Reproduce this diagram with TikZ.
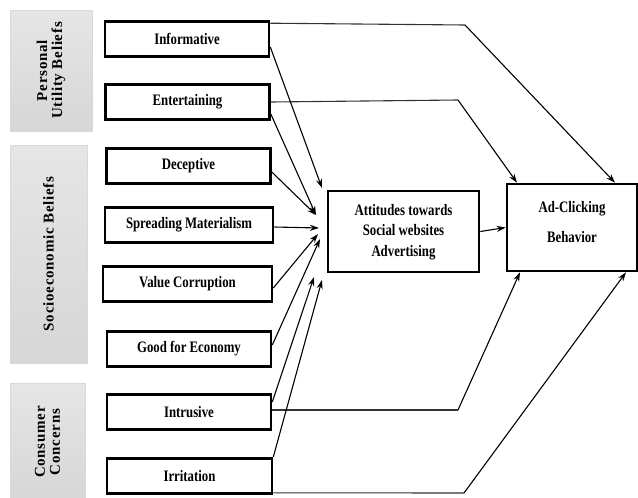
\documentclass[tikz,border=0pt]{standalone}
\usepackage{fontspec}
\setmainfont{Liberation Serif}
\newfontfamily\boxfont[FakeStretch=0.8]{Liberation Serif}
\newfontfamily\groupfont[LetterSpace=5]{Liberation Serif}
\usepackage{tikz}
\usetikzlibrary{arrows.meta, positioning, calc}
\tikzset{
  % Box styles
  groupbox/.style={rectangle, draw=gray!30, top color=gray!20, bottom color=gray!32, font=\groupfont\fontsize{15}{15}\selectfont\bfseries, align=center, rotate=90, inner sep=0pt},
  factorbox/.style={rectangle, draw=black, line width=2.6pt, fill=white, minimum width=164pt, minimum height=35pt, font=\boxfont\fontsize{16}{17}\selectfont\bfseries, align=center, inner sep=0pt},
  mainbox/.style={rectangle, draw=black, line width=2.6pt, fill=white, font=\boxfont\fontsize{16}{20.5}\selectfont\bfseries, align=center, inner sep=0pt},
  % Arrow styles
  arrow/.style={-{Stealth[length=9pt,width=6pt]}, line width=1.1pt, black},
  link/.style={line width=1.1pt, black!80}
}
\begin{document}
\begin{tikzpicture}[x=1pt, y=-1pt]
  \useasboundingbox (0,0) rectangle (638,498);

  % Groups
  \node[groupbox, minimum width=121pt, minimum height=82pt] (pub) at (51,70.5) {Personal\\Utility Beliefs};
  \node[groupbox, minimum width=218pt, minimum height=77pt] (seb) at (48.5,254) {Socioeconomic Beliefs};
  \node[groupbox, minimum width=118pt, minimum height=75pt] (cc) at (47.5,442) {Consumer\\Concerns};

  % Factors
  \node[factorbox] (inf) at (187,39) {Informative};
  \node[factorbox] (ent) at (187.5,102) {Entertaining};
  \node[factorbox] (dec) at (188.5,166) {Deceptive};
  \node[factorbox, minimum width=168pt] (spr) at (189,225) {Spreading Materialism};
  \node[factorbox, minimum width=169pt] (val) at (187.5,284) {Value Corruption};
  \node[factorbox] (goo) at (189,349) {Good for Economy};
  \node[factorbox] (int) at (189,412) {Intrusive};
  \node[factorbox, minimum width=165pt] (irr) at (189.5,476) {Irritation};

  % Outcomes
  \node[mainbox, minimum width=151pt, minimum height=81pt, text depth=3pt] (att) at (403.5,231.5) {Attitudes towards\\Social websites\\Advertising};
  \node[mainbox, minimum width=130pt, minimum height=87pt, text depth=12pt, font=\boxfont\fontsize{16}{30}\selectfont\bfseries] (adc) at (572,227.5) {Ad-Clicking\\Behavior};

  % Bend points and arrow ends
  \coordinate (b1) at (465,25);
  \coordinate (b2) at (458,100);
  \coordinate (b3) at (458,410);
  \coordinate (b4) at (464,493);
  \coordinate (t1) at (322,188);
  \coordinate (t2) at (316,215);
  \coordinate (t3) at (319,228);
  \coordinate (t4) at (318,234);
  \coordinate (t5) at (320,239);
  \coordinate (t6) at (314,277);
  \coordinate (t7) at (322,280);

  % Direct paths
  \draw[link] (inf.north east) ++(0,3) -- (b1);
  \draw[arrow] (b1) -- (adc.north east -| 615,0);
  \draw[link] (ent.east) -- (b2);
  \draw[arrow] (b2) -- (adc.north west -| 517,0);
  \draw[link] (int.east) ++(0,-2) -- (b3);
  \draw[arrow] (b3) -- (adc.south west -| 520,0);
  \draw[link] (irr.south east) ++(0,-2) -- (b4);
  \draw[arrow] (b4) -- (adc.south east -| 626,0);

  % Paths to attitudes
  \draw[arrow] ($(inf.east)+(0,8)$) -- (t1);
  \draw[arrow] ($(ent.east)+(0,12)$) -- (t2);
  \draw[arrow] ($(dec.east)+(0,6)$) -- (t2);
  \draw[arrow] ($(spr.east)+(0,2)$) -- (t3);
  \draw[arrow] ($(val.east)+(0,4)$) -- (t4);
  \draw[arrow] ($(goo.east)+(0,-4)$) -- (t5);
  \draw[arrow] ($(int.east)+(0,-10)$) -- (t6);
  \draw[arrow] ($(irr.east)+(0,-19)$) -- (t7);

  \draw[arrow] (att.east) -- (adc.west);
\end{tikzpicture}
\end{document}
